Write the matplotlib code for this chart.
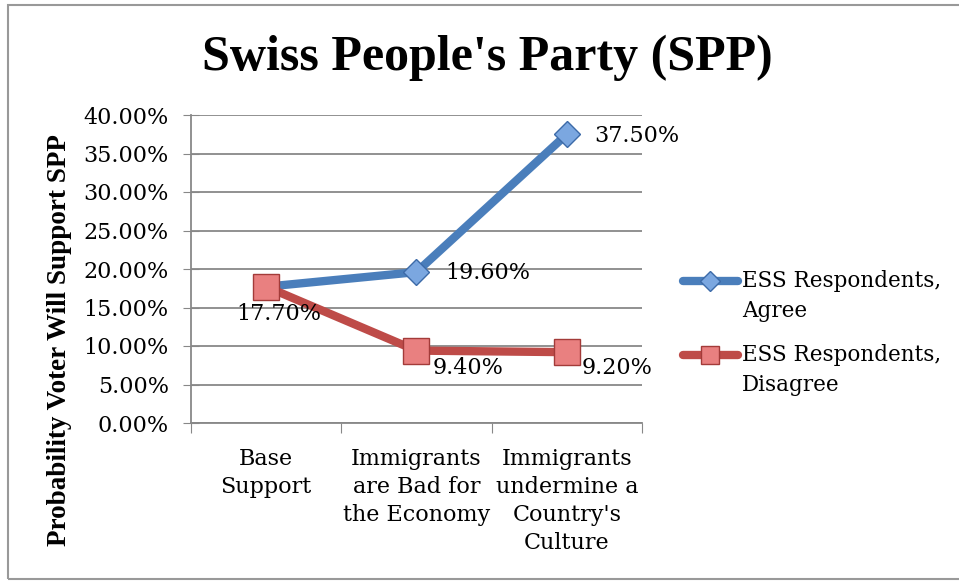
import matplotlib
matplotlib.use("Agg")
import matplotlib.pyplot as plt
from matplotlib.patches import Rectangle
from matplotlib.lines import Line2D

categories = ["Base\nSupport", "Immigrants\nare Bad for\nthe Economy", "Immigrants\nundermine a\nCountry's\nCulture"]
agree = [17.7, 19.6, 37.5]
disagree = [17.7, 9.4, 9.2]
series_names = [["ESS Respondents,", "Agree"], ["ESS Respondents,", "Disagree"]]
yticks = [0, 5, 10, 15, 20, 25, 30, 35, 40]
title = "Swiss People's Party (SPP)"
ylabel = "Probability Voter Will Support SPP"

body = ['DejaVu Serif']
heavy = ['Liberation Serif', 'DejaVu Serif']
plt.rcParams['font.family'] = body

W, H = 959, 581
fig = plt.figure(figsize=(W / 100, H / 100), dpi=100)
ax = fig.add_axes([191 / W, 1 - 423 / H, (642 - 191) / W, (423 - 115) / H])

blue = "#4A7EBB"
red = "#BE4B48"
x = list(range(len(categories)))

ax.plot(x, agree, color=blue, lw=6, solid_capstyle='round', zorder=3,
        marker='D', ms=13, mfc="#7BA7E0", mec="#3C6AA8", mew=1)
ax.plot(x, disagree, color=red, lw=6, solid_capstyle='round', zorder=4,
        marker='s', ms=19, mfc="#E98080", mec="#A33B39", mew=1)

ax.set_xlim(-0.5, 2.5)
ax.set_ylim(0, 40)
ax.set_yticks(yticks)
ax.set_yticklabels([f"{v:.2f}%" for v in yticks], fontsize=16)
ax.set_xticks([-0.5, 0.5, 1.5, 2.5])
ax.set_xticklabels([])
ax.set_xticks(x, minor=True)
ax.set_xticklabels(categories, minor=True, fontsize=16, linespacing=1.36)
ax.tick_params(axis='x', which='minor', length=0, pad=18)
ax.tick_params(axis='x', which='major', direction='out', length=7, color='#888888')
ax.tick_params(axis='y', direction='inout', length=12, color='#888888', pad=10)
ax.grid(axis='y', color='#888888', lw=1.3)
for s in ['top', 'right']:
    ax.spines[s].set_visible(False)
for s in ['left', 'bottom']:
    ax.spines[s].set_color('#888888')
    ax.spines[s].set_linewidth(1.3)

# data labels
fs = 16
ax.annotate(f"{agree[0]:.2f}%", (x[0], disagree[0]), xytext=(9, -20), textcoords='offset points',
            ha='center', va='center', fontsize=fs, zorder=5)
ax.annotate(f"{agree[1]:.2f}%", (x[1], agree[1]), xytext=(21, -1), textcoords='offset points',
            ha='left', va='center', fontsize=fs)
ax.annotate(f"{agree[2]:.2f}%", (x[2], agree[2]), xytext=(20, -1), textcoords='offset points',
            ha='left', va='center', fontsize=fs)
ax.annotate(f"{disagree[1]:.2f}%", (x[1], disagree[1]), xytext=(11.5, -12.5), textcoords='offset points',
            ha='left', va='center', fontsize=fs)
ax.annotate(f"{disagree[2]:.2f}%", (x[2], disagree[2]), xytext=(11, -11.5), textcoords='offset points',
            ha='left', va='center', fontsize=fs)

fig.text(487 / W, 1 - 70 / H, title, ha='center', va='baseline', fontsize=36,
         fontweight='bold', family=heavy)
fig.text(60 / W, 1 - 340 / H, ylabel, ha='center', va='center', rotation=90, fontsize=19.5,
         fontweight='bold', family=heavy)

# legend (handle aligned with first line of each entry, as in the reference)
leg_specs = [
    (281, blue, 'D', 10, "#7BA7E0", "#3C6AA8"),
    (355, red, 's', 13, "#E98080", "#A33B39"),
]
for (yy, col, mk, ms, mfc, mec), lines in zip(leg_specs, series_names):
    fig.add_artist(Line2D([683 / W, 738 / W], [1 - yy / H, 1 - yy / H], transform=fig.transFigure,
                          color=col, lw=6, solid_capstyle='round'))
    fig.add_artist(Line2D([710 / W], [1 - yy / H], transform=fig.transFigure, marker=mk, ms=ms,
                          mfc=mfc, mec=mec, mew=1, lw=0))
    fig.text(742 / W, 1 - yy / H, lines[0], ha='left', va='center', fontsize=15.5)
    fig.text(742 / W, 1 - (yy + 30) / H, lines[1], ha='left', va='center', fontsize=15.5)

fig.add_artist(Rectangle((8 / W, 2 / H), (W) / W, (H - 7) / H, transform=fig.transFigure,
                         fill=False, edgecolor='#999999', lw=1.5))

fig.savefig("out.png", dpi=100)
